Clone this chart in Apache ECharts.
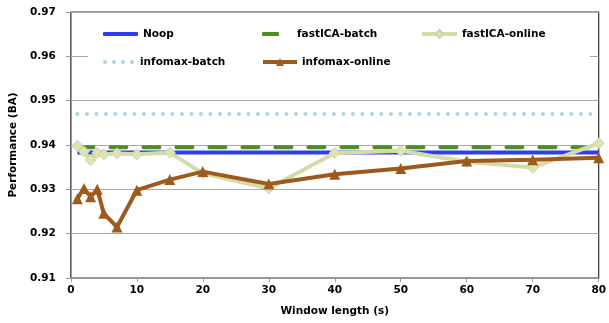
<!DOCTYPE html>
<html><head><meta charset="utf-8">
<script src="https://cdn.jsdelivr.net/npm/echarts@6/dist/echarts.min.js"></script>
<style>html,body{margin:0;padding:0;background:#fff}#c{width:609px;height:323px}</style>
</head><body><div id="c"></div>
<script>
const windowLengths = [1, 2, 3, 4, 5, 7, 10, 15, 20, 30, 40, 50, 60, 70, 80];
const noop = [0.9383,0.9383,0.9383,0.9383,0.9383,0.9383,0.9383,0.9383,0.9383,0.9383,0.9383,0.9383,0.9383,0.9383,0.9383];
const fastICABatch = [0.9395,0.9395,0.9395,0.9395,0.9395,0.9395,0.9395,0.9395,0.9395,0.9395,0.9395,0.9395,0.9395,0.9395,0.9395];
const fastICAOnline = [0.9398,0.9385,0.9366,0.9382,0.9379,0.9381,0.9379,0.9383,0.9336,0.9302,0.9382,0.9387,0.9362,0.9349,0.9404];
const infomaxBatch = [0.947,0.947,0.947,0.947,0.947,0.947,0.947,0.947,0.947,0.947,0.947,0.947,0.947,0.947,0.947];
const infomaxOnline = [0.9279,0.9302,0.9283,0.9300,0.9246,0.9215,0.9298,0.9322,0.9340,0.9312,0.9334,0.9347,0.9364,0.9367,0.9371];
const seriesNames = ['Noop','fastICA-batch','fastICA-online','infomax-batch','infomax-online'];
const yTicks = {min: 0.91, max: 0.97, step: 0.01};
const xTicks = {min: 0, max: 80, step: 10};

const pair = arr => windowLengths.map((x, i) => [x, arr[i]]);
const FONT = 'DejaVu Sans';
const lbl = {fontFamily: FONT, fontWeight: 'bold', fontSize: 10.5, color: '#000'};

const chart = echarts.init(document.getElementById('c'), null, {renderer: 'canvas'});
function leg(name, left, top, extra, textPadLeft) {
  return Object.assign({
    data: [name], left: left, top: top, padding: 0, itemGap: 0,
    itemWidth: 35, itemHeight: 14, z: 10,
    lineStyle: {width: 4},
    textStyle: Object.assign({}, lbl, {lineHeight: 14, padding: [0, 0, 0, textPadLeft || 0]})
  }, extra);
}
const dotsIcon = 'path://M0,2a2,2 0 1,0 4,0a2,2 0 1,0 -4,0Z M9,2a2,2 0 1,0 4,0a2,2 0 1,0 -4,0Z M18,2a2,2 0 1,0 4,0a2,2 0 1,0 -4,0Z M27,2a2,2 0 1,0 4,0a2,2 0 1,0 -4,0Z';
chart.setOption({
  animation: false,
  backgroundColor: '#fff',
  graphic: [{type: 'rect', shape: {x: 88, y: 18, width: 502, height: 70}, style: {fill: '#fff'}, z: 1, silent: true}],
  grid: {left: 69, right: 9, top: 12, bottom: 45, show: true, borderColor: '#333', borderWidth: 1.2, backgroundColor: 'transparent'},
  legend: [
    leg(seriesNames[0], 103, 27, {icon: 'roundRect', itemWidth: 35, itemHeight: 4}),
    leg(seriesNames[1], 262, 27, {icon: 'roundRect', itemWidth: 17, itemHeight: 4}, 13),
    leg(seriesNames[2], 420, 27, {itemHeight: 10}),
    leg(seriesNames[3], 103, 55, {icon: dotsIcon, itemWidth: 31, itemHeight: 4}, 1),
    leg(seriesNames[4], 261, 55, {itemWidth: 34, itemHeight: 10})
  ],
  xAxis: {
    type: 'value', min: xTicks.min, max: xTicks.max, interval: xTicks.step,
    name: 'Window length (s)', nameLocation: 'middle', nameGap: 28,
    nameTextStyle: lbl,
    axisLine: {show: true, lineStyle: {color: '#999', width: 1}},
    axisTick: {show: true, length: 4, lineStyle: {color: '#999'}},
    axisLabel: Object.assign({}, lbl, {margin: 7}),
    splitLine: {show: false}
  },
  yAxis: {
    type: 'value', min: yTicks.min, max: yTicks.max, interval: yTicks.step,
    name: 'Performance (BA)', nameLocation: 'middle', nameGap: 49, nameRotate: 90,
    nameTextStyle: lbl,
    axisLine: {show: true, lineStyle: {color: '#999', width: 1}},
    axisTick: {show: true, length: 5, lineStyle: {color: '#999'}},
    axisLabel: Object.assign({}, lbl, {margin: 15, formatter: v => v.toFixed(2)}),
    splitLine: {show: true, lineStyle: {color: '#a8a8a8', width: 1}}
  },
  series: [
    {name: seriesNames[0], type: 'line', data: pair(noop), symbol: 'none', z: 3,
     lineStyle: {color: '#2e3df2', width: 4}, itemStyle: {color: '#2e3df2'}},
    {name: seriesNames[1], type: 'line', data: pair(fastICABatch), symbol: 'none', z: 3,
     lineStyle: {color: '#4f8f22', width: 4, type: [16, 17], cap: 'round'}, itemStyle: {color: '#4f8f22'}},
    {name: seriesNames[2], type: 'line', data: pair(fastICAOnline), symbol: 'diamond', symbolSize: 11, z: 3,
     lineStyle: {color: '#d3dba7', width: 4}, itemStyle: {color: '#dde3b4', borderColor: '#cdd69f', borderWidth: 1}},
    {name: seriesNames[3], type: 'line', data: pair(infomaxBatch), symbol: 'none', z: 3,
     lineStyle: {color: '#abd5e3', width: 4, type: [0, 9.5], cap: 'round'}, itemStyle: {color: '#abd5e3'}},
    {name: seriesNames[4], type: 'line', data: pair(infomaxOnline), symbol: 'triangle', symbolSize: 11, z: 4,
     lineStyle: {color: '#9e5a1c', width: 4}, itemStyle: {color: '#9e5a1c'}}
  ]
});
</script></body></html>
